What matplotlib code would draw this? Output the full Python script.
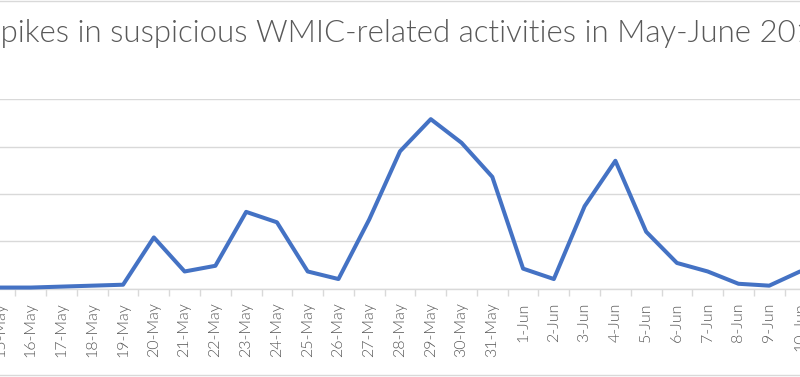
import matplotlib
matplotlib.use("Agg")
import matplotlib.pyplot as plt
from matplotlib.lines import Line2D
from matplotlib.ticker import FixedLocator

dates = ["15-May", "16-May", "17-May", "18-May", "19-May", "20-May", "21-May",
         "22-May", "23-May", "24-May", "25-May", "26-May", "27-May", "28-May",
         "29-May", "30-May", "31-May", "1-Jun", "2-Jun", "3-Jun", "4-Jun",
         "5-Jun", "6-Jun", "7-Jun", "8-Jun", "9-Jun", "10-Jun"]
counts = [1, 1, 2, 3, 4, 54, 18, 24, 81, 70, 18, 10, 73, 145,
          179, 154, 118, 21, 10, 87, 135, 60, 27, 18, 5, 3, 18]
title = "Spikes in suspicious WMIC-related activities in May-June 2019"

W, H = 800, 377
fig = plt.figure(figsize=(W / 100, H / 100), dpi=100)
fig.patch.set_facecolor("white")
renderer = fig.canvas.get_renderer()

base_y, top_y = 288.5, 99.3
ax = fig.add_axes([0, 1 - base_y / H, 1, (base_y - top_y) / H])
ax.set_facecolor("none")

x = list(range(len(dates)))
ax.plot(x, counts, color="#4472C4", lw=2.9, solid_joinstyle="round",
        solid_capstyle="round", clip_on=False, zorder=3)

ax.set_ylim(0, 200)
ax.set_xlim(0.013, 25.99)
ax.set_yticks([0, 50, 100, 150, 200])
ax.yaxis.grid(True, color="#D9D9D9", lw=1.0)
ax.set_axisbelow(True)
ax.tick_params(axis="y", left=False, labelleft=False)
for s in ["left", "right", "top"]:
    ax.spines[s].set_visible(False)
ax.spines["bottom"].set_color("#D9D9D9")
ax.spines["bottom"].set_linewidth(1.0)

# tick label size: "20-May" is about 55 px long in the reference
lkw = dict(color="#595959", family="Lato", weight=300)
probe = fig.text(0, 0, "20-May", fontsize=10, **lkw)
lfs = 10 * 55 / probe.get_window_extent(renderer).width
probe.remove()
lfs = min(lfs, 12.6)

ax.set_xticks(x)
ax.set_xticklabels(dates, rotation=90, fontsize=lfs, **lkw)
ax.tick_params(axis="x", which="major", length=0, pad=10)
ax.xaxis.set_minor_locator(FixedLocator([i + 0.5 for i in range(-1, len(dates))]))
ax.tick_params(axis="x", which="minor", length=5, color="#D9D9D9", width=1)

# title in a light face, sized so that "pikes ... 20" spans the visible width
tkw = dict(color="#595959", family="Lato", weight=300)
probe = fig.text(0, 0, "pikes in suspicious WMIC-related activities in May-June 20",
                 fontsize=20, **tkw)
w20 = probe.get_window_extent(renderer).width
probe.remove()
fs = 20 * 794 / w20
t1 = fig.text(0, 0, "Spikes", fontsize=fs, **tkw)
t2 = fig.text(0, 0, "pikes", fontsize=fs, **tkw)
w_diff = t1.get_window_extent(renderer).width - t2.get_window_extent(renderer).width
t1.remove()
t2.remove()
fig.text((1 - w_diff) / W, 1 - 42 / H, title, ha="left", va="baseline",
         fontsize=fs, **tkw)

fig.add_artist(Line2D([0, 1], [1 - 1 / H, 1 - 1 / H], transform=fig.transFigure,
                      color="#D9D9D9", lw=1))
fig.add_artist(Line2D([0, 1], [2 / H, 2 / H], transform=fig.transFigure,
                      color="#D9D9D9", lw=1))

fig.savefig("out.png", dpi=100)
